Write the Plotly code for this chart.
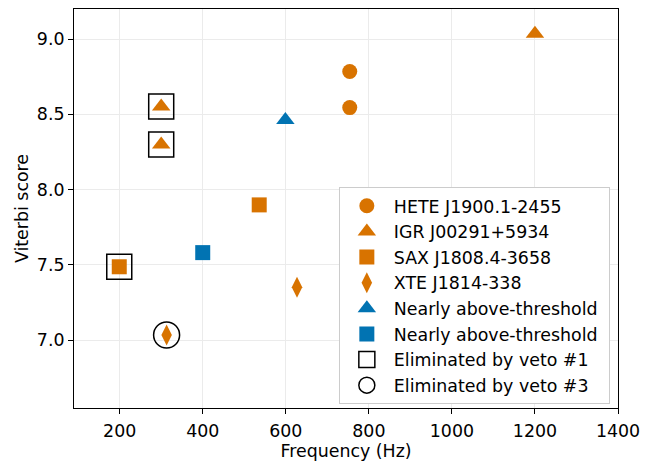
import plotly.graph_objects as go

ORANGE = "#D87300"
BLUE = "#0173B2"

hete_freq = [754, 754]
hete_score = [8.785, 8.545]
igr_freq = [300, 300, 1200]
igr_score = [8.553, 8.30, 9.035]
sax_freq = [199, 536]
sax_score = [7.488, 7.899]
xte_freq = [313, 627]
xte_score = [7.035, 7.352]
near_tri_freq = [599]
near_tri_score = [8.463]
near_sq_freq = [400]
near_sq_score = [7.582]
veto1_freq = [300, 300, 199]
veto1_score = [8.553, 8.30, 7.488]
veto3_freq = [313]
veto3_score = [7.035]

x_ticks = [200, 400, 600, 800, 1000, 1200, 1400]
y_ticks = [7.0, 7.5, 8.0, 8.5, 9.0]

fig = go.Figure()

def add(name, xs, ys, symbol, color, size, open_=False, lw=0):
    marker = dict(symbol=symbol, size=size)
    if open_:
        marker.update(color="black", line=dict(color="black", width=lw))
    else:
        marker.update(color=color, line=dict(width=0))
    fig.add_trace(go.Scatter(x=xs, y=ys, mode="markers", name=name,
                             legendgroup=name, marker=marker))

add("HETE J1900.1-2455", hete_freq, hete_score, "circle", ORANGE, 15)
add("IGR J00291+5934", igr_freq, igr_score, "triangle-up", ORANGE, 16)
add("SAX J1808.4-3658", sax_freq, sax_score, "square", ORANGE, 15)
add("XTE J1814-338", xte_freq, xte_score, "diamond-tall", ORANGE, 15)
add("Nearly above-threshold ", near_tri_freq, near_tri_score, "triangle-up", BLUE, 16)
add("Nearly above-threshold", near_sq_freq, near_sq_score, "square", BLUE, 15)
add("Eliminated by veto #1", veto1_freq, veto1_score, "square-open", None, 25, True, 1.5)
add("Eliminated by veto #3", veto3_freq, veto3_score, "circle-open", None, 26, True, 1.5)

FS = 17.4
font = dict(family="DejaVu Sans", size=FS, color="black")
axis_common = dict(showline=True, linecolor="black", linewidth=1, mirror=True,
                   ticks="outside", ticklen=5, tickcolor="black", tickwidth=1,
                   showgrid=True, gridcolor="#ebebeb", gridwidth=1,
                   zeroline=False, tickfont=font, title_font=font)

fig.update_layout(
    width=654, height=462,
    margin=dict(l=74, r=36, t=8, b=50),
    paper_bgcolor="white", plot_bgcolor="white",
    font=font,
    xaxis=dict(range=[90, 1400], tickvals=x_ticks, title_text="Frequency (Hz)",
               title_standoff=1, ticklabelstandoff=2, **axis_common),
    yaxis=dict(range=[6.55, 9.2], tickvals=y_ticks, tickformat=".1f",
               title_text="Viterbi score", title_standoff=3, **axis_common),
    legend=dict(x=0.985, y=0.01, xanchor="right", yanchor="bottom",
                bgcolor="white", bordercolor="#cccccc", borderwidth=1,
                font=font, tracegroupgap=0, itemwidth=44),
    showlegend=True,
)

fig.write_html("out.html", config={"displayModeBar": False},
               post_script="document.body.style.margin='0';document.body.style.overflow='hidden';")
